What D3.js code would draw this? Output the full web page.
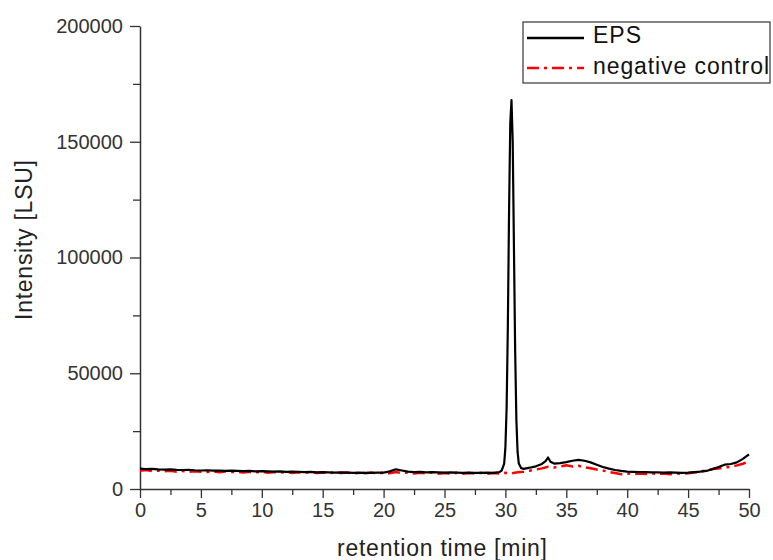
<!DOCTYPE html>
<html>
<head>
<meta charset="utf-8">
<script src="https://cdn.jsdelivr.net/npm/d3@7"></script>
<style>
  body { margin: 0; background: #fff; }
  svg text { font-family: "Liberation Sans", Arial, sans-serif; }
</style>
</head>
<body>
<div id="chart"></div>
<script>
// retention time [min] / intensity [LSU] pairs
const epsSeries = [
  [0, 8800], [0.5, 8600], [1, 8700], [1.5, 8500], [2, 8400], [2.5, 8500], [3, 8300], [3.5, 8200],
  [4, 8300], [4.5, 8100], [5, 8000], [5.5, 8100], [6, 7900], [6.5, 8000], [7, 7800], [7.5, 7900],
  [8, 7800], [8.5, 7700], [9, 7800], [9.5, 7600], [10, 7700], [10.5, 7600], [11, 7500], [11.5, 7600],
  [12, 7400], [12.5, 7500], [13, 7400], [13.5, 7300], [14, 7400], [14.5, 7200], [15, 7300], [15.5, 7200],
  [16, 7100], [16.5, 7200], [17, 7100], [17.5, 7000], [18, 7100], [18.5, 7000], [19, 7000], [19.5, 7100],
  [20, 7100], [20.5, 7600], [21, 8500], [21.5, 8000], [22, 7500], [22.5, 7300], [23, 7400], [23.5, 7200],
  [24, 7300], [24.5, 7200], [25, 7100], [25.5, 7200], [26, 7100], [26.5, 7000], [27, 7100], [27.5, 7000],
  [28, 7000], [28.5, 7100], [29, 7000], [29.5, 7300], [29.7, 8000], [29.9, 11000], [30.0, 18000],
  [30.1, 35000], [30.2, 70000], [30.3, 120000], [30.4, 158000], [30.5, 168000], [30.6, 150000],
  [30.7, 105000], [30.8, 60000], [30.9, 30000], [31.0, 16000], [31.1, 11000], [31.3, 9000], [31.5, 8700],
  [32, 9200], [32.5, 9800], [33, 10800], [33.3, 12000], [33.5, 13600], [33.7, 11800], [34, 11000],
  [34.5, 11200], [35, 11600], [35.5, 12200], [36, 12600], [36.5, 12200], [37, 11500], [37.5, 10500],
  [38, 9500], [38.5, 8800], [39, 8200], [39.5, 7800], [40, 7500], [40.5, 7400], [41, 7300], [41.5, 7300],
  [42, 7200], [42.5, 7200], [43, 7100], [43.5, 7200], [44, 7100], [44.5, 7000], [45, 7100], [45.5, 7300],
  [46, 7500], [46.5, 7800], [47, 8600], [47.5, 9500], [48, 10500], [48.5, 10800], [49, 11500],
  [49.5, 13000], [50, 15000]
];

const controlSeries = [
  [0, 7900], [0.5, 8200], [1, 7700], [1.5, 8000], [2, 7600], [2.5, 7900], [3, 7500], [3.5, 7800],
  [4, 7400], [4.5, 7700], [5, 7500], [5.5, 7300], [6, 7700], [6.5, 7200], [7, 7600], [7.5, 7300],
  [8, 7500], [8.5, 7100], [9, 7400], [9.5, 7200], [10, 7500], [10.5, 7000], [11, 7300], [11.5, 7100],
  [12, 7400], [12.5, 6900], [13, 7200], [13.5, 7000], [14, 7300], [14.5, 6900], [15, 7100], [15.5, 6800],
  [16, 7200], [16.5, 6900], [17, 7100], [17.5, 6700], [18, 7000], [18.5, 6800], [19, 7100], [19.5, 6700],
  [20, 7000], [20.5, 6800], [21, 7300], [21.5, 6900], [22, 7100], [22.5, 6700], [23, 7000], [23.5, 6800],
  [24, 7100], [24.5, 6600], [25, 6900], [25.5, 6700], [26, 7000], [26.5, 6600], [27, 6900], [27.5, 6700],
  [28, 7000], [28.5, 6600], [29, 6900], [29.5, 6700], [30, 7000], [30.5, 6800], [31, 7200], [31.5, 7500],
  [32, 7900], [32.5, 8400], [33, 8900], [33.5, 9600], [34, 9300], [34.5, 9800], [35, 10200], [35.5, 9700],
  [36, 10000], [36.5, 9400], [37, 9000], [37.5, 8400], [38, 8000], [38.5, 7400], [39, 6900], [39.5, 6400],
  [40, 6700], [40.5, 6400], [41, 6700], [41.5, 6500], [42, 6800], [42.5, 6500], [43, 6700], [43.5, 6400],
  [44, 6700], [44.5, 6500], [45, 6800], [45.5, 7100], [46, 7500], [46.5, 8000], [47, 8600], [47.5, 8900],
  [48, 9300], [48.5, 9600], [49, 10200], [49.5, 10900], [50, 12000]
];

const xTicks = [0, 5, 10, 15, 20, 25, 30, 35, 40, 45, 50];
const xMinor = [2.5, 7.5, 12.5, 17.5, 22.5, 27.5, 32.5, 37.5, 42.5, 47.5];
const yTicks = [0, 50000, 100000, 150000, 200000];
const yMinor = [25000, 75000, 125000, 175000];
const legendLabels = ["EPS", "negative control"];

const W = 773, H = 560;
const margin = {top: 26, right: 24, bottom: 71, left: 140};
const width = W - margin.left - margin.right,
      height = H - margin.top - margin.bottom;

const svg = d3.select("#chart").append("svg")
    .attr("width", W)
    .attr("height", H);

svg.append("rect").attr("width", W).attr("height", H).attr("fill", "#fff");

const g = svg.append("g")
    .attr("transform", "translate(" + margin.left + "," + margin.top + ")");

const x = d3.scaleLinear().domain([0, 50]).range([0, width]);
const y = d3.scaleLinear().domain([0, 200000]).range([height, 0]);

// minor ticks first, then the real axes on top
g.append("g")
    .attr("transform", "translate(0," + height + ")")
    .call(d3.axisBottom(x).tickValues(xMinor).tickSize(6).tickFormat(""))
    .call(a => a.select(".domain").remove());
g.append("g")
    .call(d3.axisLeft(y).tickValues(yMinor).tickSize(7).tickFormat(""))
    .call(a => a.select(".domain").remove());

const xAxis = g.append("g")
    .attr("transform", "translate(0," + height + ")")
    .call(d3.axisBottom(x).tickValues(xTicks).tickSize(9).tickSizeOuter(0).tickPadding(5).tickFormat(d3.format("d")));
const yAxis = g.append("g")
    .call(d3.axisLeft(y).tickValues(yTicks).tickSize(10).tickSizeOuter(0).tickPadding(7).tickFormat(d3.format("d")));

[xAxis, yAxis].forEach(a => {
  a.selectAll("text").attr("font-size", 20).attr("fill", "#333")
      .style("font-family", "Liberation Sans, Arial, sans-serif");
  a.select(".domain").attr("stroke", "#333").attr("stroke-width", 1.5);
});
g.selectAll("g.tick line").attr("stroke", "#333").attr("stroke-width", 1.3);

const line = d3.line()
    .x(d => x(d[0]))
    .y(d => y(d[1]));

g.append("path")
    .datum(controlSeries)
    .attr("fill", "none")
    .attr("stroke", "#ff0000")
    .attr("stroke-width", 2.5)
    .attr("stroke-dasharray", "12,5,3,5")
    .attr("d", line);

g.append("path")
    .datum(epsSeries)
    .attr("fill", "none")
    .attr("stroke", "#000")
    .attr("stroke-width", 2.2)
    .attr("stroke-linejoin", "round")
    .attr("d", line);

// axis titles
svg.append("text")
    .attr("x", 442)
    .attr("y", 556)
    .attr("text-anchor", "middle")
    .attr("font-size", 23)
    .attr("textLength", 210)
    .attr("fill", "#222")
    .text("retention time [min]");

svg.append("text")
    .attr("transform", "translate(32,240) rotate(-90)")
    .attr("text-anchor", "middle")
    .attr("font-size", 23)
    .attr("textLength", 160)
    .attr("fill", "#222")
    .text("Intensity [LSU]");

// legend
const leg = svg.append("g").attr("transform", "translate(523,22)");
leg.append("rect")
    .attr("width", 247).attr("height", 61)
    .attr("fill", "#fff").attr("stroke", "#444").attr("stroke-width", 1.3);
const legStyles = [
  {stroke: "#000", width: 2.5, dash: null, len: 48},
  {stroke: "#ff0000", width: 2.5, dash: "12,5,3,5", len: 176}
];
legendLabels.forEach((label, i) => {
  const cy = 16 + i * 30;
  leg.append("line")
      .attr("x1", 4).attr("x2", 61).attr("y1", cy).attr("y2", cy)
      .attr("stroke", legStyles[i].stroke)
      .attr("stroke-width", legStyles[i].width)
      .attr("stroke-dasharray", legStyles[i].dash);
  leg.append("text")
      .attr("x", 70).attr("y", cy + 5 + i)
      .attr("font-size", 23)
      .attr("textLength", legStyles[i].len)
      .attr("fill", "#111")
      .text(label);
});
</script>
</body>
</html>
